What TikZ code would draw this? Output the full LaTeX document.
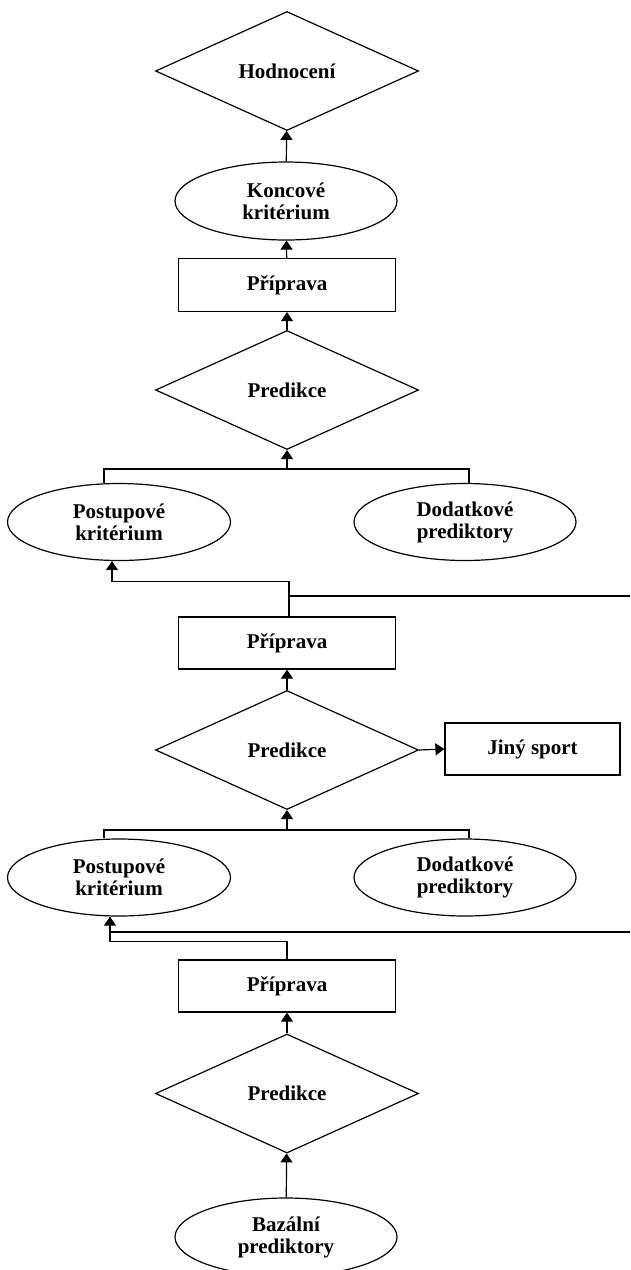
\documentclass[tikz,border=0pt]{standalone}
\usepackage{fontspec}
\setmainfont{Liberation Serif}
\usetikzlibrary{shapes.geometric,arrows.meta}
\tikzset{
  base/.style={draw, line width=1.2pt, inner sep=0pt, font=\fontsize{21}{22}\selectfont\bfseries, align=center},
  dia/.style={base, diamond, minimum width=263pt, minimum height=119pt},
  ell/.style={base, ellipse, minimum width=223pt, minimum height=77pt},
  box/.style={base, rectangle, minimum width=217pt, minimum height=53pt},
  ln/.style={line width=1.2pt},
  arr/.style={ln, -{Triangle[width=12pt,length=9pt]}}
}
\begin{document}
\begin{tikzpicture}[x=1pt,y=-1pt]
\useasboundingbox (0,0) rectangle (630,1270);
\fill[white] (0,0) rectangle (630,1270);
% nodes
\node[dia] (hod) at (287,71) {Hodnocení};
\node[ell, minimum width=222pt, minimum height=78pt] (kon) at (286,201) {Koncové\\kritérium};
\node[box] (prip1) at (287,285) {Příprava};
\node[dia] (pred1) at (287,390) {Predikce};
\node[ell] (post1) at (119,522) {Postupové\\kritérium};
\node[ell, minimum width=222pt] (dod1) at (465,522) {Dodatkové\\prediktory};
\node[box, minimum height=52pt] (prip2) at (287,643) {Příprava};
\node[dia] (pred2) at (287,750) {Predikce};
\node[box, minimum width=175pt, minimum height=52pt] (jiny) at (532.5,749) {Jiný sport};
\node[ell] (post2) at (119,877.5) {Postupové\\kritérium};
\node[ell, minimum width=222pt] (dod2) at (465,877.5) {Dodatkové\\prediktory};
\node[box, minimum height=52pt] (prip3) at (287,986) {Příprava};
\node[dia] (pred3) at (287,1093.5) {Predikce};
\node[ell, minimum width=222pt, minimum height=78pt] (baz) at (286,1237) {Bazální\\prediktory};
% junction and edge coordinates
\coordinate (j1) at (287,469);
\coordinate (j2) at (287,830);
\coordinate (e1) at (630,596);
\coordinate (e2) at (630,932);
% top chain
\draw[arr] (kon) -- (hod);
\draw[arr] (prip1) -- (kon);
\draw[arr] (pred1) -- (prip1);
% group 1
\draw[ln] ([xshift=-15pt]post1.north) |- (j1) -| ([xshift=4pt]dod1.north);
\draw[arr] (j1) -- (pred1.south);
\draw[arr] ([xshift=2pt]prip2.north) -- ++(0,-35) -| ([xshift=-7pt]post1.south);
\draw[ln] ([xshift=2pt]prip2.north |- e1) -- (e1);
% middle chain
\draw[arr] (pred2) -- (prip2);
\draw[arr] (pred2.east) -- (jiny.west);
% group 2
\draw[ln] ([xshift=-15pt]post2.north) |- (j2) -| ([xshift=4pt]dod2.north);
\draw[arr] (j2) -- (pred2.south);
\draw[arr] (prip3.north) -- ++(0,-18) -| ([xshift=-9pt]post2.south);
\draw[ln] (e2) -| ([xshift=-9pt]post2.south);
% bottom chain
\draw[arr] (pred3) -- (prip3);
\draw[arr] (baz) -- (pred3);
\end{tikzpicture}
\end{document}
